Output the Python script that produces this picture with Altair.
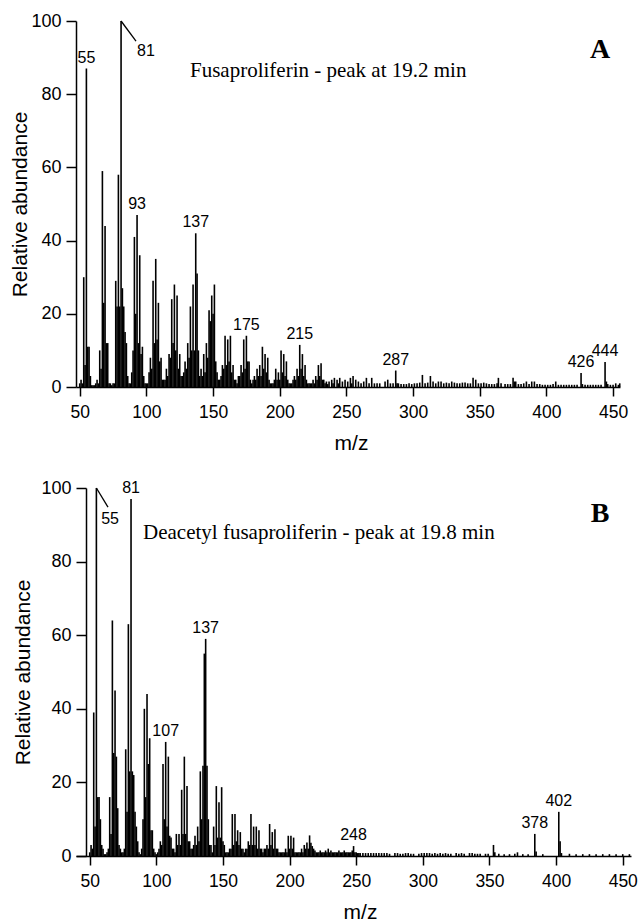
import altair as alt
import pandas as pd

# ---------------- Panel A : Fusaproliferin ----------------
a_start = 50
a_main = [
    1, 2, 1, 30, 6, 87, 11, 11, 3, 0.5,          # 50-59
    0.5, 0.5, 1, 2, 1, 10, 5, 59, 23, 44,        # 60-69
    12, 12, 1, 1, 0.5, 1, 1, 29, 22, 58,         # 70-79
    22, 100, 27, 22, 15, 12, 3, 1, 1, 4,         # 80-89
    10, 41, 20, 47, 12, 36, 9, 11, 3, 1,         # 90-99
    1, 1, 4, 8, 5, 29, 12, 35, 13, 23,           # 100-109
    7, 8, 2, 2, 2, 5, 3, 9, 8, 24,               # 110-119
    12, 28, 10, 25, 5, 9, 3, 3, 4, 7,            # 120-129
    5, 12, 8, 22, 10, 28, 10, 42, 31, 10,        # 130-139
    3, 5, 3, 9, 4, 12, 8, 21, 18, 25,            # 140-149
    20, 28, 7, 4, 2, 2, 3, 6, 5, 14,             # 150-159
    6, 13, 7, 14, 4, 6, 2, 2, 1, 3,              # 160-169
    3, 6, 4, 13, 5, 14, 7, 7, 2, 1,              # 170-179
    2, 3, 2, 5, 3, 6, 3, 11, 5, 9,               # 180-189
    4, 8, 2, 1, 1, 1, 2, 5, 2, 4,                # 190-199
    2, 10, 4, 9, 3, 7, 2, 1, 1, 1,               # 200-209
    2, 3, 2, 5, 3, 11.5, 5, 9, 3, 6,             # 210-219
    2, 1, 1, 1, 1, 2, 1, 3, 2, 6,                # 220-229
    3, 6.5, 2,                                   # 230-232
]
a_tail_mz = [233, 234, 235, 236, 237, 239, 240, 241, 243, 244, 245, 247, 249, 251, 253, 254, 255, 257,
             259, 261, 263, 265, 267, 269, 271, 273, 275, 279, 281, 283, 285, 287, 288, 289, 291, 293,
             295, 297, 299, 301, 303, 305, 307, 309, 311, 313, 315, 317, 319, 321, 323, 325, 327, 329,
             331, 333, 335, 337, 339, 341, 343, 345, 347, 349, 351, 353, 355, 357, 359, 361, 363, 364,
             366, 369, 371, 373, 375, 376, 377, 379, 381, 383, 385, 387, 389, 391, 393, 395, 397, 399,
             401, 403, 405, 407, 409, 411, 413, 415, 417, 419, 421, 423, 426, 427, 429, 431, 433, 435,
             437, 439, 441, 444, 445, 446, 448, 450, 452, 454, 455]
a_tail_ab = [2, 1, 1.5, 0.8, 1.5, 2, 1, 2.5, 2, 1, 2.5, 1.5, 2, 1.5, 2.5, 1, 3, 2,
             1.5, 1, 1.5, 2.5, 1, 2.5, 1, 1, 1, 1.5, 2, 1, 1, 4.5, 1, 1, 0.8, 0.8,
             0.8, 1, 0.8, 1, 1, 1.2, 3.3, 1, 1.2, 3, 1.5, 1, 1.5, 1.5, 1, 1.2, 1, 1.5,
             1.2, 1, 1, 1.2, 1.2, 1, 1, 2.5, 2, 1, 1, 1.2, 1, 0.8, 0.8, 0.8, 1, 2.5,
             1, 0.8, 0.8, 0.8, 2.5, 1.5, 1.5, 0.8, 0.8, 1, 1.5, 0.8, 1.5, 1.5, 0.8, 0.8, 0.6, 0.6,
             0.6, 0.6, 0.8, 1.5, 0.6, 0.6, 0.6, 0.6, 0.6, 0.6, 0.6, 0.6, 3.8, 0.8, 0.6, 0.6, 0.6, 0.6,
             0.6, 0.6, 0.6, 6.8, 1.5, 0.8, 0.6, 0.6, 1, 0.6, 1]
a_label_mz = [55, 93, 137, 175, 215, 287, 426, 444]
a_label_txt = ["55", "93", "137", "175", "215", "287", "426", "444"]
a_leader = {"x1": [81], "y1": [100], "x2": [92.2], "y2": [94.5], "tx": [99.7], "ty": [90.4], "txt": ["81"]}
a_note = "Fusaproliferin - peak at 19.2 min"
a_letter = "A"

# ---------------- Panel B : Deacetyl fusaproliferin ----------------
b_start = 50
b_main = [
    1, 3, 2, 39, 8, 100, 16, 16, 10, 3,          # 50-59
    2, 0.5, 0.5, 1, 2, 16, 6, 64, 28, 45,        # 60-69
    27, 13, 3, 2, 1, 1, 2, 29, 12, 63,           # 70-79
    23, 97, 23, 22, 12, 8, 4, 1, 0.5, 2,         # 80-89
    10, 40, 16, 44, 25, 32, 7, 7, 2, 1,          # 90-99
    0.5, 1, 2, 4, 3, 25, 10, 31, 8, 27,          # 100-109
    5.5, 5, 2, 2, 1, 6, 3, 6, 3, 18,             # 110-119
    6, 27, 6, 19, 4, 4, 2, 2, 3, 5.5,            # 120-129
    3, 8, 4, 23, 10, 24.5, 55, 59, 24.5, 10,     # 130-139
    3, 3, 1, 8, 3, 19, 5, 14.6, 5, 18.7,         # 140-149
    4, 3, 1, 1, 1, 2, 2, 11.4, 3, 11.4,          # 150-159
    4, 7, 3, 6.5, 2, 2, 1, 2, 2, 4,              # 160-169
    3, 11.4, 3, 8, 3, 8, 2, 7, 2, 2,             # 170-179
    1, 2, 2, 3, 2, 8.7, 3, 6.5, 2, 7.3,          # 180-189
    2, 2, 1, 1, 1, 1, 1, 2, 1, 5.5,              # 190-199
    2, 5.5, 2, 5, 1, 1, 1, 1, 1, 2,              # 200-209
    1, 3, 2, 3.7, 2, 5.6, 3.6, 2.7, 2, 1.5,      # 210-219
    1, 1,                                        # 220-221
]
b_tail_mz = [222, 223, 224, 225, 226, 227, 228, 229, 230, 231, 232, 233, 234, 235, 236, 237, 238, 239,
             240, 241, 242, 243, 244, 245, 246, 247, 248, 249, 250, 251, 252, 253, 255, 257, 259, 261,
             263, 265, 267, 269, 271, 273, 275, 279, 281, 283, 285, 287, 289, 291, 293, 297, 299, 301,
             303, 305, 307, 309, 311, 313, 315, 317, 319, 321, 325, 327, 329, 331, 335, 337, 339, 341,
             343, 347, 349, 353, 354, 357, 361, 365, 369, 371, 375, 379, 384, 385, 390, 402, 403, 404,
             410, 415, 420, 425, 430, 435, 440, 445, 450, 455]
b_tail_ab = [1, 1.5, 1, 1, 1, 1.5, 1, 2, 1, 1.5, 1, 1, 1, 1, 1, 1.5, 1, 1,
             1, 1.5, 1, 1, 1, 1, 1, 1.5, 2.7, 1, 1, 0.8, 0.8, 0.8, 0.8, 0.8, 0.8, 0.8,
             0.8, 0.8, 0.8, 0.8, 0.8, 0.8, 0.6, 0.8, 0.8, 0.6, 0.6, 0.8, 0.8, 0.6, 0.6, 0.6, 0.8, 0.8,
             0.8, 0.8, 0.6, 0.8, 0.6, 0.8, 0.6, 0.8, 0.6, 0.6, 0.8, 0.6, 0.8, 0.6, 0.8, 0.8, 0.6, 0.6,
             0.6, 0.6, 0.6, 3, 1, 0.6, 0.5, 0.5, 0.6, 1, 0.5, 0.5, 6, 1.2, 0.5, 12, 4, 0.8,
             0.6, 0.5, 0.5, 0.5, 0.5, 0.5, 0.5, 0.5, 0.5, 0.5]
b_label_mz = [81, 107, 137, 248, 384, 402]
b_label_txt = ["81", "107", "137", "248", "378", "402"]
b_leader = {"x1": [55], "y1": [100], "x2": [63.7], "y2": [94.8], "tx": [65.3], "ty": [90.2], "txt": ["55"]}
b_note = "Deacetyl fusaproliferin - peak at 19.8 min"
b_letter = "B"

SANS = "Liberation Sans"
SERIF = "Liberation Serif"


def build(start, main, tail_mz, tail_ab, lab_mz, lab_txt, leader, note, note_xy, letter, letter_xy,
          xdom, w, h, yoff, ytp, xtitle_x):
    mz = list(range(start, start + len(main))) + tail_mz
    ab = list(main) + list(tail_ab)
    df = pd.DataFrame({"mz": mz, "ab": ab})
    lookup = dict(zip(mz, ab))
    labdf = pd.DataFrame({"mz": lab_mz, "ab": [lookup[m] for m in lab_mz], "txt": lab_txt})
    leaddf = pd.DataFrame(leader)

    xs = alt.Scale(domain=xdom, nice=False, zero=False, padding=0)
    ys = alt.Scale(domain=[0, 100], nice=False, padding=0)
    xax = alt.Axis(
        values=list(range(50, 451, 25)),
        labelExpr="datum.value % 50 === 0 ? datum.label : ''",
        tickSize={"condition": {"test": "datum.value % 50 === 0", "value": 9}, "value": 5},
        grid=False, labelFont=SANS, labelFontSize=17.5, labelColor="black", labelPadding=7,
        labelFlush=False, title="m/z", titleFont=SANS, titleFontSize=21, titleFontWeight="normal",
        titleColor="black", titlePadding=12, domainColor="black", domainWidth=1.5,
        tickColor="black", tickWidth=1.5, titleX=xtitle_x,
    )
    yax = alt.Axis(
        values=list(range(0, 101, 10)),
        labelExpr="datum.value % 20 === 0 ? datum.label : ''",
        tickSize={"condition": {"test": "datum.value % 20 === 0", "value": 10}, "value": 5},
        grid=False, labelFont=SANS, labelFontSize=18, labelColor="black", labelPadding=5,
        labelFlush=False, title="Relative abundance", titleFont=SANS, titleFontSize=21,
        titleFontWeight="normal", titleColor="black", titlePadding=ytp,
        domainColor="black", domainWidth=1.5, tickColor="black", tickWidth=1.5, offset=yoff,
    )
    bars = alt.Chart(df).mark_bar(size=1.6, color="black").encode(
        x=alt.X("mz:Q", scale=xs, axis=xax),
        y=alt.Y("ab:Q", scale=ys, axis=yax),
    )
    labels = alt.Chart(labdf).mark_text(font=SANS, fontSize=16, baseline="alphabetic", dy=-6,
                                        color="black").encode(
        x="mz:Q", y="ab:Q", text="txt:N")
    lead = alt.Chart(leaddf).mark_rule(color="black", strokeWidth=1.3).encode(
        x="x1:Q", y="y1:Q", x2="x2:Q", y2="y2:Q")
    lead_txt = alt.Chart(leaddf).mark_text(font=SANS, fontSize=16, baseline="alphabetic",
                                           color="black").encode(x="tx:Q", y="ty:Q", text="txt:N")
    note_t = alt.Chart(pd.DataFrame({"t": [note]})).mark_text(
        font=SERIF, fontSize=21, align="left", baseline="alphabetic", color="black").encode(
        x=alt.datum(note_xy[0]), y=alt.datum(note_xy[1]), text="t:N")
    letter_t = alt.Chart(pd.DataFrame({"t": [letter]})).mark_text(
        font=SERIF, fontSize=28, fontWeight="bold", align="center", baseline="alphabetic",
        color="black").encode(x=alt.datum(letter_xy[0]), y=alt.datum(letter_xy[1]), text="t:N")
    return alt.layer(bars, labels, lead, lead_txt, note_t, letter_t).properties(width=w, height=h)


panel_a = build(a_start, a_main, a_tail_mz, a_tail_ab, a_label_mz, a_label_txt, a_leader,
                a_note, (132.7, 84.8), a_letter, (440.2, 89.8),
                [47.2, 455.2], 544, 366, 0, 0, 275)
panel_b = build(b_start, b_main, b_tail_mz, b_tail_ab, b_label_mz, b_label_txt, b_leader,
                b_note, (90, 86.1), b_letter, (433, 90.8),
                [39.7, 456.2], 555, 368, -10, 7, 284)

chart = alt.vconcat(panel_a, panel_b, spacing=25).properties(
    padding={"top": 12, "left": 9, "right": 0, "bottom": 0}, background="white"
).configure_view(stroke=None)

chart.save("out.html", embed_options={"renderer": "svg", "actions": False})
